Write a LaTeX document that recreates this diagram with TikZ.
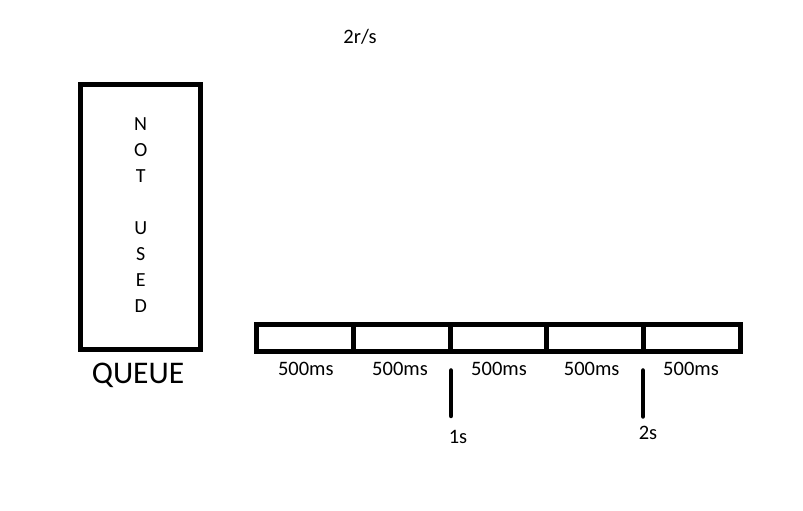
\documentclass[tikz,border=0pt]{standalone}
\usepackage{fontspec}
\setmainfont{Carlito}
\begin{document}
\begin{tikzpicture}[x=1pt,y=1pt,
  thick box/.style={draw=black,line width=5pt,inner sep=0pt,fill=none},
  cell/.style={thick box,minimum width=96.8pt,minimum height=27pt},
  lbl/.style={font=\fontsize{20.5}{24}\selectfont,inner sep=0pt,anchor=base},
  tick/.style={draw=black,line width=4.5pt,line cap=round}]
\useasboundingbox[fill=white] (0,0) rectangle (803,511);
% title
\node[lbl] (rate) at (360,467.7) {2r/s};
% queue
\node[thick box,minimum width=120.5pt,minimum height=265pt] (queue) at (140.25,294) {};
\node[font=\fontsize{20}{26}\selectfont,align=center,inner sep=0pt] (notused) at (140.7,296)
  {N\\O\\T\\[26pt]U\\S\\E\\D};
\node[font=\fontsize{31.5}{36}\selectfont,inner sep=0pt,anchor=base] (qlabel) at (138,127.7) {QUEUE};
% timeline cells
\node[cell] (c1) at (304.9,173) {};
\node[cell] (c2) at (401.7,173) {};
\node[cell] (c3) at (498.5,173) {};
\node[cell] (c4) at (595.3,173) {};
\node[cell] (c5) at (692.1,173) {};
% durations
\node[lbl] (d1) at (305.8,135) {500ms};
\node[lbl] (d2) at (400,135.5) {500ms};
\node[lbl] (d3) at (499,135.5) {500ms};
\node[lbl] (d4) at (591.7,135.5) {500ms};
\node[lbl] (d5) at (691,135.5) {500ms};
% ticks
\coordinate (t1a) at (451,140.5);
\coordinate (t1b) at (451,95);
\coordinate (t2a) at (643,140.5);
\coordinate (t2b) at (643,94.5);
\draw[tick] (t1a) -- (t1b);
\draw[tick] (t2a) -- (t2b);
\node[lbl] (s1) at (458,67.7) {1s};
\node[lbl] (s2) at (648,71) {2s};
\end{tikzpicture}
\end{document}
